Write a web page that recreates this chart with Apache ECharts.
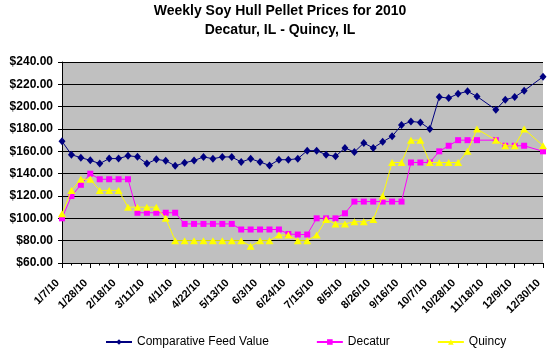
<!DOCTYPE html>
<html>
<head>
<meta charset="utf-8">
<script src="https://cdn.jsdelivr.net/npm/echarts@6/dist/echarts.min.js"></script>
<style>
  html, body { margin: 0; padding: 0; background: #ffffff; }
  #chart { width: 556px; height: 350px; }
</style>
</head>
<body>
<div id="chart"></div>
<script>
const categories = [
  '1/7/10','1/14/10','1/21/10','1/28/10','2/4/10','2/11/10','2/18/10','2/25/10','3/4/10','3/11/10',
  '3/18/10','3/25/10','4/1/10','4/8/10','4/15/10','4/22/10','4/29/10','5/6/10','5/13/10','5/20/10',
  '5/27/10','6/3/10','6/10/10','6/17/10','6/24/10','7/1/10','7/8/10','7/15/10','7/22/10','7/29/10',
  '8/5/10','8/12/10','8/19/10','8/26/10','9/2/10','9/9/10','9/16/10','9/23/10','9/30/10','10/7/10',
  '10/14/10','10/21/10','10/28/10','11/4/10','11/11/10','11/18/10','11/25/10','12/2/10','12/9/10','12/16/10',
  '12/23/10','12/30/10'
];

const comparativeFeedValue = [
  169, 157, 154.3, 152, 149, 153.5, 153.5, 156, 155.2, 149,
  152.8, 151.6, 147, 149.8, 151.7, 155, 153.4, 155, 155, 150.4,
  153.4, 150.4, 147.4, 152.5, 152.5, 153.4, 160.6, 160.6, 157, 155.5,
  163, 159.4, 167.5, 163, 168.5, 173.4, 183.5, 186.8, 185.9, 180,
  208.6, 207.7, 211.6, 213.7, 209.2, null, 197.3, 206.2, 208.6, 214.3,
  null, 226.8
];

const decatur = [
  100, 120, 130, 140, 135, 135, 135, 135, 105, 105,
  105, 105, 105, 95, 95, 95, 95, 95, 95, 90,
  90, 90, 90, 90, 86, 85.5, 85.5, 100, 100, 100,
  104.5, 115, 115, 115, 115, 115, 115, 150, 150, 150,
  160, 165, 170, 170, 170, null, 170, 165, 165, 165,
  null, 160
];

const quincy = [
  104, 125, 135, 135, 125, 125, 125, 110, 110, 110,
  110, 100, 80, 80, 80, 80, 80, 80, 80, 80,
  75, 80, 80, 85, 85, 80, 80, 85, 99, 95,
  95, 97, 97, 99, 120, 150, 150, 170, 170, 150,
  150, 150, 150, 160, 180, null, 170, 165, 165, 180,
  null, 165
];

const seriesNames = ['Comparative Feed Value', 'Decatur', 'Quincy'];
const titleLines = ['Weekly Soy Hull Pellet Prices for 2010', 'Decatur, IL - Quincy, IL'];

const FONT = '"Liberation Sans", Arial, sans-serif';

const chart = echarts.init(document.getElementById('chart'), null, { renderer: 'canvas' });

chart.setOption({
  animation: false,
  backgroundColor: '#ffffff',
  title: {
    text: titleLines.join('\n'),
    left: 280,
    top: 2,
    padding: 0,
    textAlign: 'center',
    textStyle: {
      fontFamily: FONT,
      fontSize: 14,
      fontWeight: 'bold',
      color: '#000000',
      lineHeight: 19
    }
  },
  legend: {
    data: seriesNames,
    left: 100,
    top: 331,
    itemWidth: 26,
    itemHeight: 7,
    itemGap: 47,
    textStyle: { fontFamily: FONT, fontSize: 12, color: '#000000' }
  },
  grid: {
    left: 62,
    right: 13,
    top: 62,
    bottom: 87,
    show: true,
    backgroundColor: '#C0C0C0',
    borderWidth: 0,
    containLabel: false,
    outerBoundsMode: 'none'
  },
  xAxis: [
    {
      type: 'category',
      data: categories,
      boundaryGap: false,
      axisLine: { show: true, lineStyle: { color: '#000000', width: 1 } },
      axisTick: { show: true, interval: 2, length: 5, lineStyle: { color: '#000000' } },
      axisLabel: { show: false },
      splitLine: { show: false }
    },
    {
      type: 'category',
      data: categories,
      boundaryGap: false,
      position: 'bottom',
      offset: 0,
      axisLine: { show: false },
      axisTick: { show: true, interval: 0, length: 2.5, lineStyle: { color: '#000000' } },
      axisLabel: { show: false },
      splitLine: { show: false }
    },
    {
      type: 'category',
      data: categories,
      boundaryGap: false,
      position: 'bottom',
      offset: 12,
      axisLine: { show: false },
      axisTick: { show: false },
      axisLabel: {
        interval: 2,
        rotate: 45,
        margin: 2,
        padding: [0, 6, 0, 0],
        fontFamily: FONT,
        fontSize: 11,
        fontWeight: 'bold',
        color: '#000000'
      },
      splitLine: { show: false }
    }
  ],
  yAxis: {
    type: 'value',
    min: 60,
    max: 240,
    interval: 20,
    axisLine: { show: true, lineStyle: { color: '#000000', width: 1 } },
    axisTick: { show: true, length: 4, lineStyle: { color: '#000000' } },
    axisLabel: {
      margin: 9,
      fontFamily: FONT,
      fontSize: 12,
      fontWeight: 'bold',
      color: '#000000',
      formatter: v => '$' + v.toFixed(2)
    },
    splitLine: { show: true, lineStyle: { color: '#000000', width: 1 } }
  },
  series: [
    {
      name: seriesNames[0],
      type: 'line',
      data: comparativeFeedValue,
      connectNulls: true,
      showSymbol: true,
      showAllSymbol: true,
      symbol: 'diamond',
      symbolSize: [7, 8],
      itemStyle: { color: '#000080' },
      lineStyle: { color: '#000080', width: 1 },
      z: 3
    },
    {
      name: seriesNames[1],
      type: 'line',
      data: decatur,
      connectNulls: true,
      showSymbol: true,
      showAllSymbol: true,
      symbol: 'rect',
      symbolSize: 6,
      itemStyle: { color: '#FF00FF' },
      lineStyle: { color: '#FF00FF', width: 1 },
      z: 4
    },
    {
      name: seriesNames[2],
      type: 'line',
      data: quincy,
      connectNulls: true,
      showSymbol: true,
      showAllSymbol: true,
      symbol: 'triangle',
      symbolSize: [8, 7],
      itemStyle: { color: '#FFFF00' },
      lineStyle: { color: '#FFFF00', width: 1 },
      z: 5
    }
  ]
});
</script>
</body>
</html>
